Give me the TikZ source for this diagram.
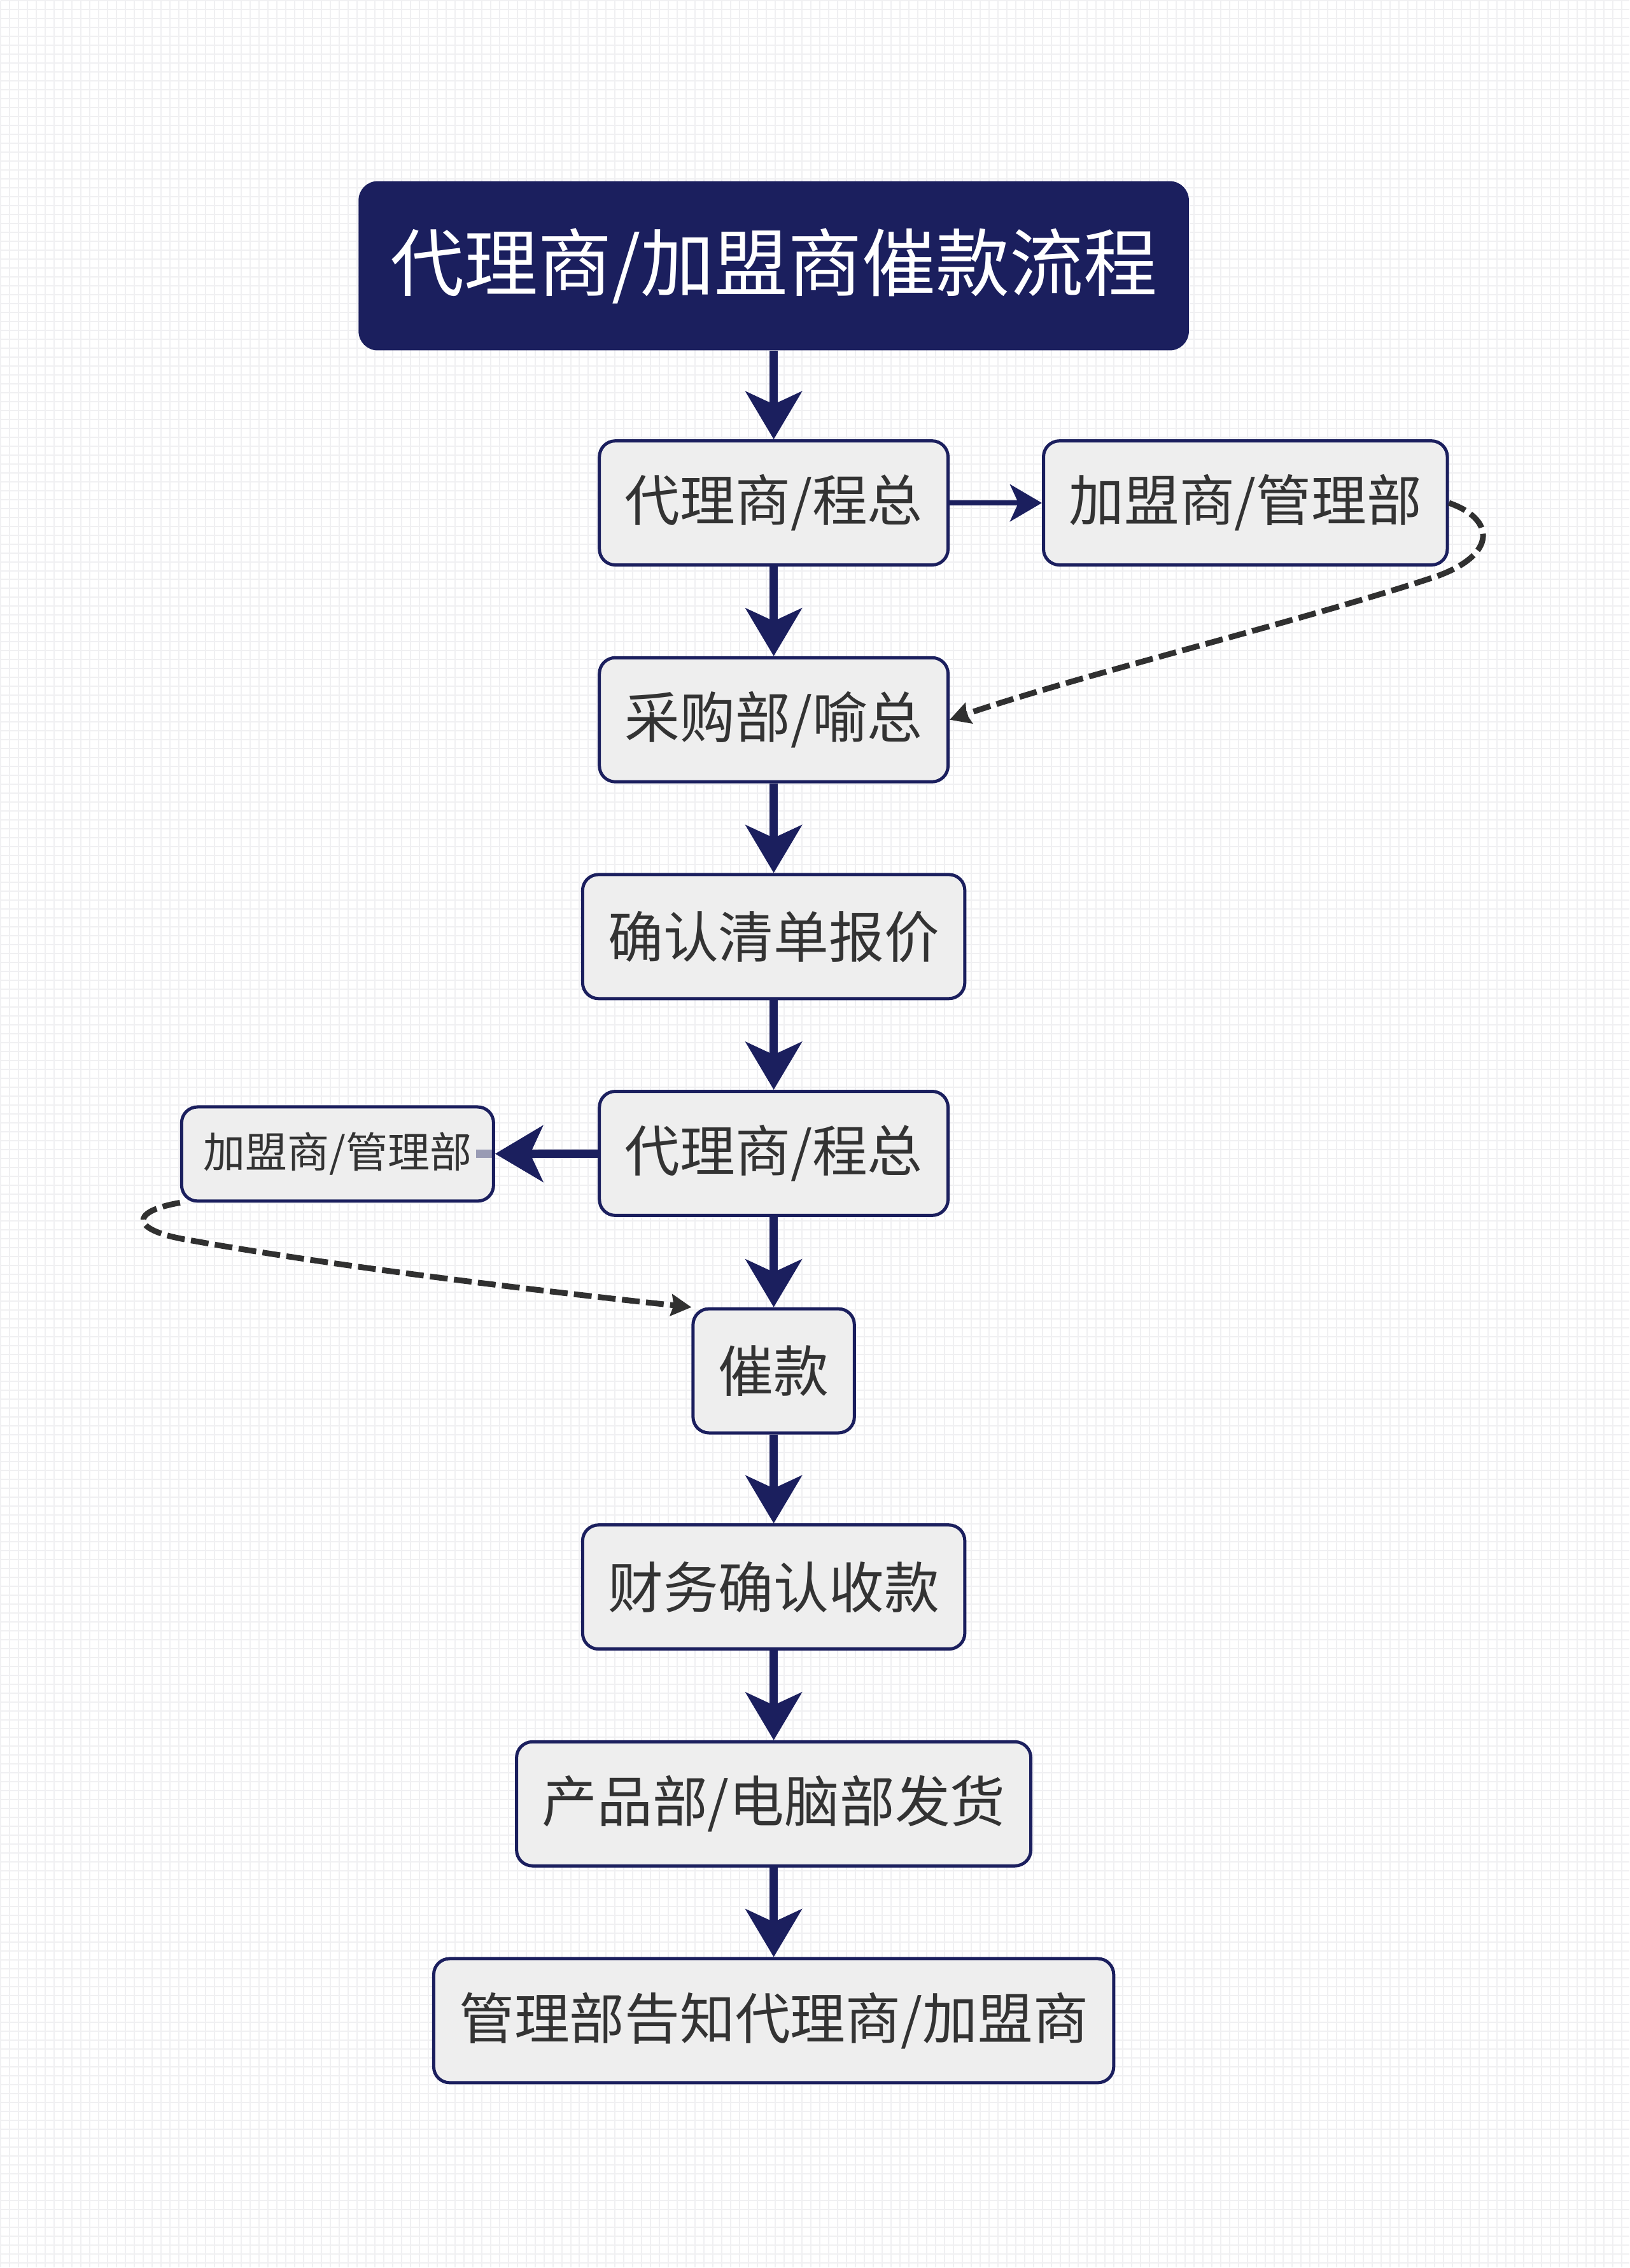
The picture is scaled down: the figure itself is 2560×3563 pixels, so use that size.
\documentclass[tikz,border=0pt]{standalone}
\usepackage{fontspec}
\usepackage{tikz}
\usepackage{xcolor}
\usetikzlibrary{arrows.meta,calc,positioning}

\newfontfamily\cjk{Noto Sans CJK SC}
\definecolor{flownavy}{RGB}{27,31,94}
\definecolor{boxgray}{RGB}{238,238,238}
\definecolor{textgray}{RGB}{51,51,51}
\definecolor{dashgray}{RGB}{48,48,48}
\definecolor{gridgray}{RGB}{240,240,242}

\tikzset{
  gridline/.style={draw=gridgray, line width=0.02cm, step=0.14cm},
  titlebox/.style={fill=flownavy, rounded corners=0.3cm, text=white,
    font=\cjk\fontsize{33}{40}\selectfont, minimum height=2.66cm, inner xsep=0.5cm},
  stepbox/.style={draw=flownavy, line width=0.05cm, fill=boxgray, rounded corners=0.25cm,
    text=textgray, font=\cjk\fontsize{24.7}{30}\selectfont, minimum height=1.95cm, inner xsep=0.4cm},
  smallbox/.style={font=\cjk\fontsize{18.8}{23}\selectfont, minimum height=1.48cm, inner xsep=0.34cm},
  flow/.style={draw=flownavy, line width=0.13cm, -{Stealth[length=0.75cm, width=0.88cm, inset=0.2cm]}},
  thinflow/.style={draw=flownavy, line width=0.08cm, -{Stealth[length=0.5cm, width=0.58cm, inset=0.13cm]}},
  backflow/.style={draw=dashgray, line width=0.09cm, dash pattern=on 0.28cm off 0.1cm,
    -{Stealth[length=0.32cm, width=0.34cm, inset=0.04cm]}},
}

\begin{document}
\begin{tikzpicture}[x=0.01cm, y=-0.01cm]
  % ---------- canvas with faint grid ----------
  \fill[white] (0,0) rectangle (2560,3563);
  \draw[gridline] (0cm,0cm) grid (25.6cm,-35.63cm);
  \useasboundingbox (0,0) rectangle (2560,3563);

  % ---------- main column ----------
  \node[titlebox] (title) at (1216,417) {代理商/加盟商催款流程};
  \node[stepbox] (agent) at (1216,790) {代理商/程总};
  \node[stepbox] (purchase) at (1216,1131) {采购部/喻总};
  \node[stepbox] (quote) at (1216,1472) {确认清单报价};
  \node[stepbox] (agent2) at (1216,1813) {代理商/程总};
  \node[stepbox] (urge) at (1216,2155) {催款};
  \node[stepbox] (finance) at (1216,2495) {财务确认收款};
  \node[stepbox] (ship) at (1216,2836) {产品部/电脑部发货};
  \node[stepbox] (notify) at (1216,3177) {管理部告知代理商/加盟商};

  % ---------- side boxes ----------
  \node[stepbox] (league) at (1958,790) {加盟商/管理部};
  \node[stepbox, smallbox] (league2) at (530,1814) {加盟商/管理部};

  % ---------- solid flow ----------
  \draw[flow] (title) -- (agent);
  \draw[flow] (agent) -- (purchase);
  \draw[flow] (purchase) -- (quote);
  \draw[flow] (quote) -- (agent2);
  \draw[flow] (agent2) -- (urge);
  \draw[flow] (urge) -- (finance);
  \draw[flow] (finance) -- (ship);
  \draw[flow] (ship) -- (notify);
  \draw[thinflow] (agent) -- (league);
  \draw[flow] (agent2) -- (league2);
  \draw[flownavy, line width=0.13cm, opacity=0.4] (league2.east) -- ++(-30,0);

  % ---------- dashed returns ----------
  \draw[backflow] (league.east) .. controls (2350,815) and (2355,870) .. (2260,905)
    .. controls (2050,975) and (1700,1060) .. (purchase.east);
  \draw[backflow] (league2.south west) .. controls (200,1905) and (205,1935) .. (300,1950)
    .. controls (550,1995) and (900,2035) .. (urge.north west);
\end{tikzpicture}
\end{document}
